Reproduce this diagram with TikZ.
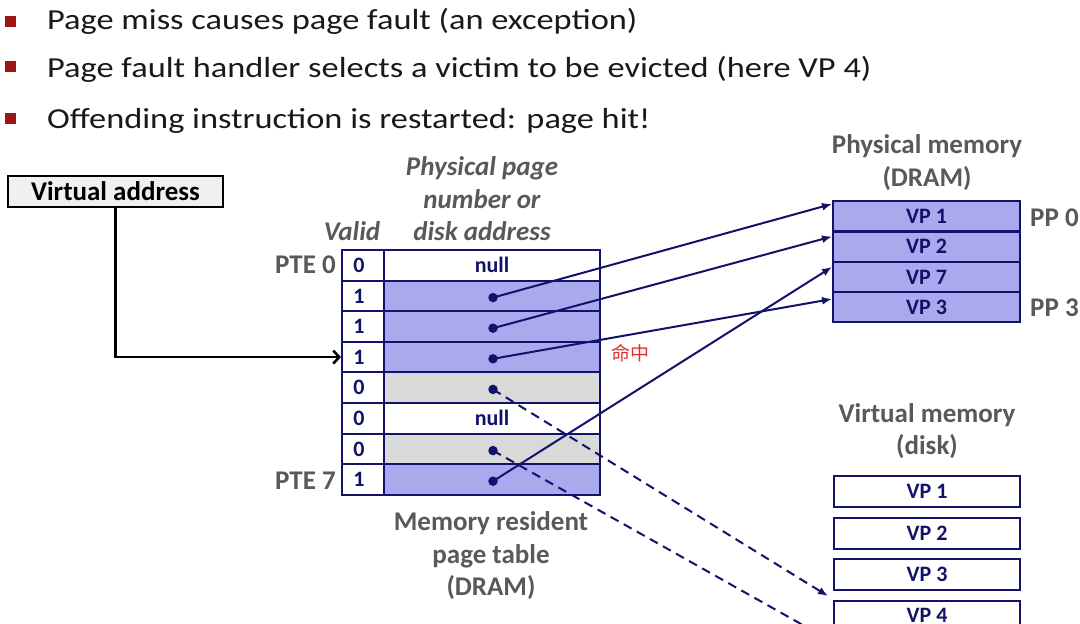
\documentclass[tikz,border=0pt]{standalone}
\usepackage{fontspec}
\setmainfont{Carlito}
\newfontfamily\cjk{Noto Sans CJK SC}
\usetikzlibrary{arrows.meta}
\definecolor{navy}{HTML}{12126A}
\definecolor{lav}{HTML}{A9A9EE}
\definecolor{lgrey}{HTML}{D9D9D9}
\definecolor{lbl}{HTML}{595959}
\definecolor{bred}{HTML}{9C1616}
\definecolor{vabox}{HTML}{F0F0F0}
\definecolor{hitred}{HTML}{E03030}
\newcommand{\wide}[1]{\scalebox{1.185}[1.0]{#1}}
\tikzset{
  bul/.style={fill=bred, minimum size=11pt, inner sep=0pt},
  btext/.style={anchor=base west, inner sep=0pt, font=\fontsize{29}{32}\selectfont, text=black!90},
  lab/.style={font=\fontsize{27}{32.5}\selectfont\bfseries, text=lbl, align=center, inner sep=0pt},
  ilab/.style={font=\fontsize{27}{32.5}\selectfont\bfseries\itshape, text=lbl, align=center, inner sep=0pt},
  vcell/.style={draw=navy, line width=2pt, minimum width=42pt, minimum height=30.6pt, inner sep=0pt,
    font=\fontsize{22}{24}\selectfont\bfseries, text=navy},
  acell/.style={draw=navy, line width=2pt, minimum width=216pt, minimum height=30.6pt, inner sep=0pt,
    font=\fontsize{22}{24}\selectfont\bfseries, text=navy},
  pmcell/.style={draw=navy, fill=lav, line width=2pt, minimum width=187pt, minimum height=30pt, inner sep=0pt,
    font=\fontsize{22}{24}\selectfont\bfseries, text=navy},
  vmcell/.style={draw=navy, fill=white, line width=2pt, minimum width=186pt, minimum height=31pt, inner sep=0pt,
    font=\fontsize{22}{24}\selectfont\bfseries, text=navy},
  dot/.style={circle, fill=navy, minimum size=9.5pt, inner sep=0pt},
  ptr/.style={draw=navy, line width=2pt, -{Latex[length=10pt,width=8pt]}},
  dptr/.style={ptr, dash pattern=on 9pt off 6pt},
}
\begin{document}
\begin{tikzpicture}[x=1pt,y=-1pt]
\useasboundingbox (0,0) rectangle (1080,624);
\clip (0,0) rectangle (1080,624);
\fill[white] (0,0) rectangle (1080,624);

% bullets
\node[bul] (q1) at (10,21.5) {};
\node[bul] (q2) at (10,66.5) {};
\node[bul] (q3) at (10,118.5) {};
\node[btext] (t1) at (47,29) {\wide{Page miss causes page fault (an exception)}};
\node[btext] (t2) at (47,77) {\wide{Page fault handler selects a victim to be evicted (here VP 4)}};
\node[btext] (t3) at (47,128) {\wide{Offending instruction is restarted: page hit!}};

% virtual address box
\node[draw=black, fill=vabox, line width=1.2pt, minimum width=215pt, minimum height=31pt, inner sep=0pt,
  font=\fontsize{27}{30}\selectfont\bfseries] (va) at (115.5,191.5) {Virtual address};

% page table
\foreach \i/\v/\f/\t in {0/0/white/null,1/1/lav/,2/1/lav/,3/1/lav/,4/0/lgrey/,5/0/white/null,6/0/lgrey/,7/1/lav/}{
  \node[vcell, fill=white] (v\i) at (363, 265.3+30.6*\i) {\hspace*{-8pt}\v};
  \node[acell, fill=\f] (a\i) at (492, 265.3+30.6*\i) {\t};
}
\foreach \i in {1,2,3,4,6,7}{
  \node[dot] (d\i) at (493, 267+30.6*\i) {};
}

% labels
\node[lab, anchor=east] (pte0) at (336,265) {PTE 0};
\node[lab, anchor=east] (pte7) at (336,481) {PTE 7};
\node[ilab] (valid) at (352,231) {Valid};
\node[ilab] (ppn) at (482,199) {Physical page\\number or\\disk address};
\node[lab] (mrpt) at (491,556) {Memory resident\\page table\\(DRAM)};

% physical memory
\node[lab] (pmt) at (927,162.5) {Physical memory\\(DRAM)};
\node[pmcell] (pm1) at (926.5,216) {VP 1};
\node[pmcell] (pm2) at (926.5,246.5) {VP 2};
\node[pmcell] (pm3) at (926.5,277) {VP 7};
\node[pmcell] (pm4) at (926.5,307) {VP 3};
\node[lab, anchor=west] (pp0) at (1030,218) {PP 0};
\node[lab, anchor=west] (pp3) at (1030,308) {PP 3};

% virtual memory
\node[lab] (vmt) at (927,431) {Virtual memory\\(disk)};
\node[vmcell] (vm1) at (927,491.5) {VP 1};
\node[vmcell] (vm2) at (927,533) {VP 2};
\node[vmcell] (vm3) at (927,574.5) {VP 3};
\node[vmcell] (vm4) at (927,616.5) {\raisebox{3pt}{VP 4}};
\coordinate (vm6) at (833,642);

% hit label
\node[font=\cjk\fontsize{19}{22}\selectfont, text=hitred, inner sep=0pt] (hit) at (630,353) {命中};

% connectors
\draw[line width=2.6pt, -{Straight Barb[length=6pt,width=13pt]}] (va.south) |- (v3.west);
\draw[ptr] (d1.center) -- ([yshift=-4pt]pm1.north west);
\draw[ptr] (d2.center) -- ([yshift=-6pt]pm2.north west);
\draw[ptr] (d3.center) -- ([yshift=-8pt]pm4.north west);
\draw[ptr] (d7.center) -- ([yshift=-6pt]pm3.north west);
\draw[dptr] (d4.center) -- ([xshift=-5pt,yshift=4pt]vm4.north west);
\draw[dptr] (d6.center) -- (vm6);
\end{tikzpicture}
\end{document}
